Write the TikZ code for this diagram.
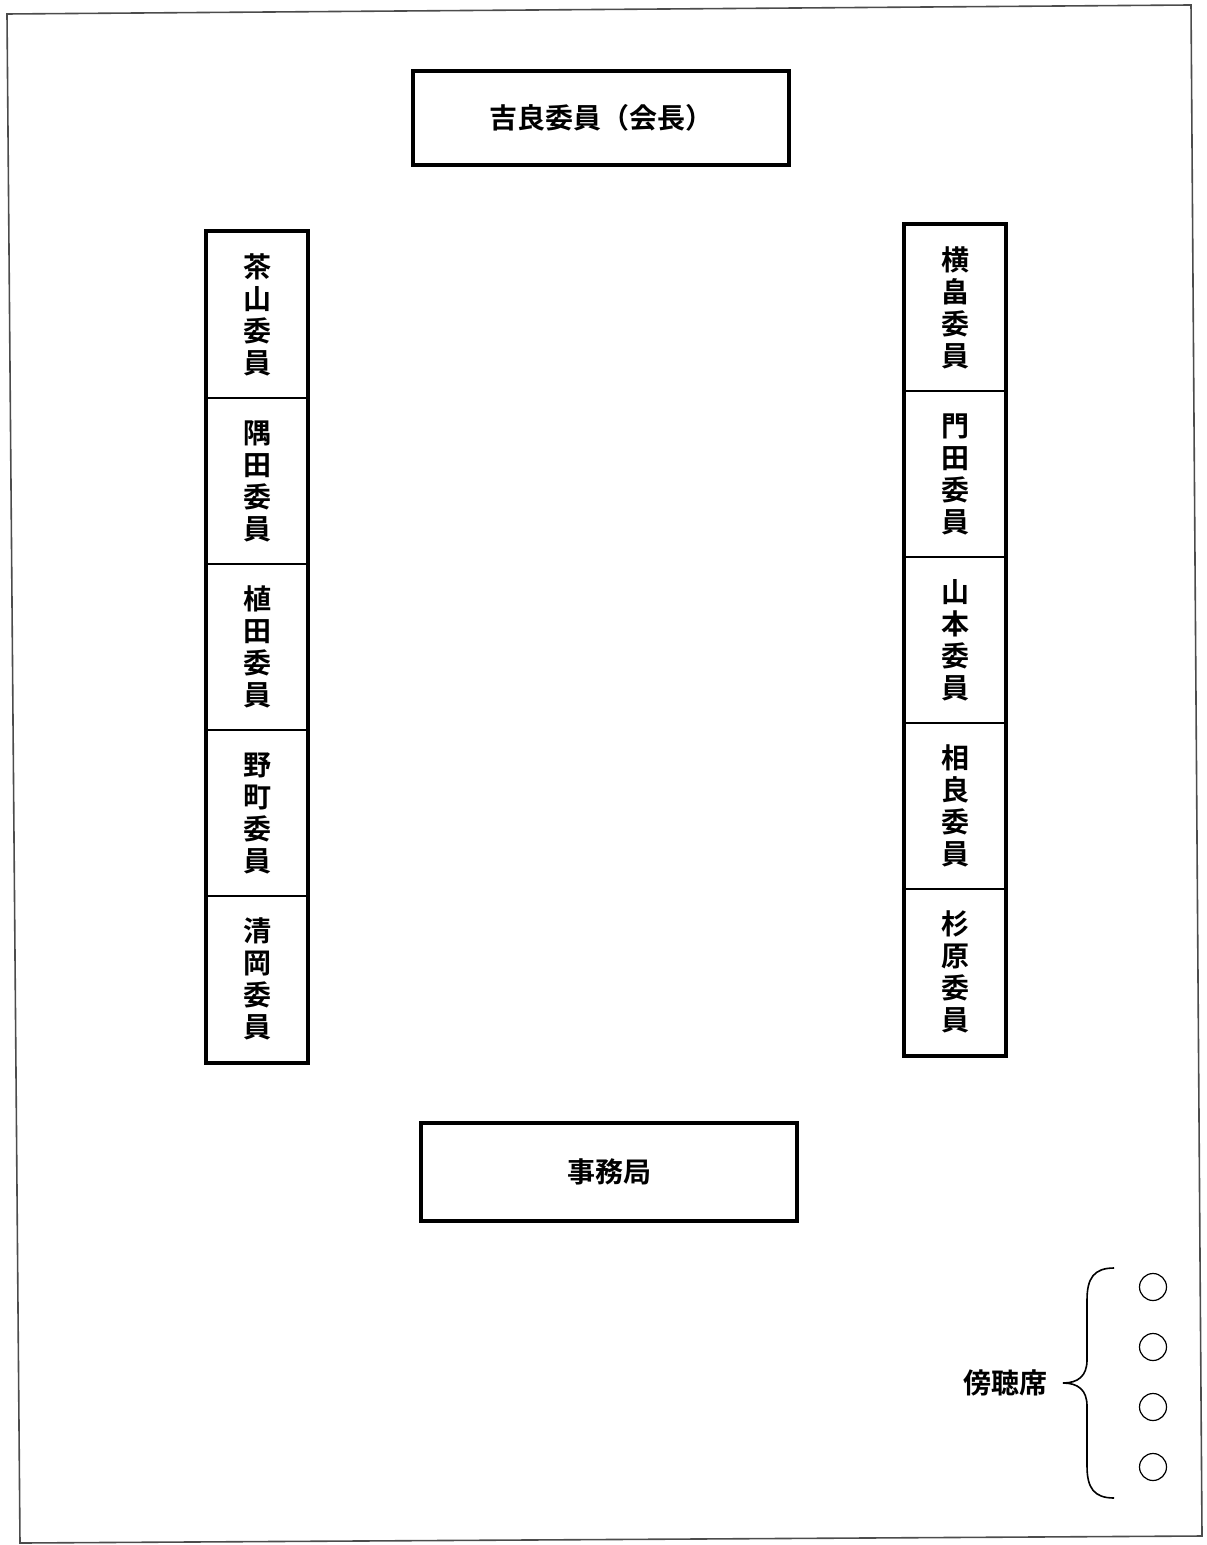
\documentclass[tikz,border=0pt]{standalone}
\usepackage{fontspec}
\newfontfamily\jpfont{Noto Sans CJK JP}[BoldFont={Noto Sans CJK JP Bold}]
\usetikzlibrary{positioning}

\tikzset{
  seatbox/.style={draw, line width=2pt, minimum width=188pt, minimum height=47pt,
    inner sep=0pt, font=\jpfont\bfseries\fontsize{14}{16}\selectfont},
  membercell/.style={draw, line width=0.8pt, minimum width=50pt, minimum height=83pt,
    inner sep=0pt, align=center, font=\jpfont\bfseries\fontsize{14}{16}\selectfont},
  guestseat/.style={draw, circle, line width=0.6pt, minimum size=13.5pt, inner sep=0pt}
}

\begin{document}
\begin{tikzpicture}[x=0.5pt,y=-0.5pt]
\useasboundingbox (0,0) rectangle (1206,1545);

% Page frame
\draw[gray!60!black, line width=0.8pt] (7,14) -- (1191,5) -- (1202,1536) -- (20,1543) -- cycle;

% Chair and office
\node[seatbox] (chair) at (601,118) {吉良委員（会長）};
\node[seatbox, minimum height=49pt] (office) at (609,1172) {事務局};

% Left row of members
\foreach \n [count=\i] in {茶\\山,隅\\田,植\\田,野\\町,清\\岡}
  \node[membercell] (L\i) at (257,149+166*\i) {\n\\委\\員};
\draw[line width=2pt] (L1.north west) rectangle (L5.south east);

% Right row of members
\foreach \n [count=\i] in {横\\畠,門\\田,山\\本,相\\良,杉\\原}
  \node[membercell] (R\i) at (955,142+166*\i) {\n\\委\\員};
\draw[line width=2pt] (R1.north west) rectangle (R5.south east);

% Public gallery
\foreach \i in {1,...,4}
  \node[guestseat] (G\i) at (1153,1227+60*\i) {};
\node[font=\jpfont\bfseries\fontsize{14}{16}\selectfont] (gallery) at (1005,1383) {傍聴席};
\coordinate (btop) at (1114,1268);
\coordinate (btip) at (1063,1383);
\coordinate (bbot) at (1114,1498);
\draw[line width=0.8pt] (btop) .. controls (1094,1268) and (1087,1278) .. (1087,1300)
  -- (1087,1360) .. controls (1087,1376) and (1078,1383) .. (btip)
  .. controls (1078,1383) and (1087,1390) .. (1087,1406)
  -- (1087,1466) .. controls (1087,1488) and (1094,1498) .. (bbot);
\end{tikzpicture}
\end{document}
